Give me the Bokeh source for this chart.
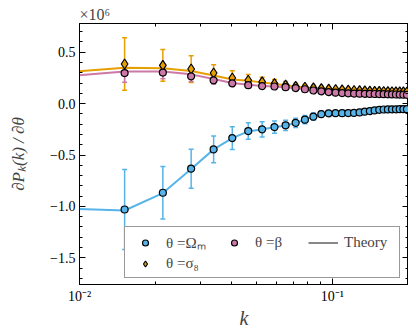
import numpy as np
from bokeh.plotting import figure
from bokeh.models import (ColumnDataSource, Whisker, TeeHead, FixedTicker, LogAxis, LinearAxis,
                          CustomJSTickFormatter, Legend, LegendItem)
from bokeh.embed import file_html
from bokeh.resources import INLINE

# ---------------- data (values in units of 1e6) ----------------
k = [0.01508, 0.02136, 0.02764, 0.03392, 0.0402, 0.04648, 0.05276, 0.05904, 0.06532, 0.0716,
     0.07788, 0.08416, 0.09044, 0.09672, 0.103, 0.10928, 0.11556, 0.12184, 0.12812, 0.1344,
     0.14068, 0.14696, 0.15324, 0.15952, 0.1658, 0.17208, 0.17836, 0.18464, 0.19092, 0.1972]

om_val = [-1.03, -0.867, -0.633, -0.445, -0.335, -0.267, -0.25, -0.228, -0.211, -0.187,
          -0.156, -0.127, -0.102, -0.094, -0.093, -0.093, -0.092, -0.090, -0.085, -0.078,
          -0.072, -0.066, -0.060, -0.057, -0.056, -0.055, -0.055, -0.054, -0.054, -0.054]
om_err = [0.39, 0.255, 0.19, 0.13, 0.11, 0.08, 0.075, 0.06, 0.05, 0.045,
          0.04, 0.035, 0.03, 0.028, 0.025, 0.022, 0.02, 0.018, 0.017, 0.016,
          0.015, 0.014, 0.013, 0.012, 0.012, 0.011, 0.011, 0.01, 0.01, 0.01]

s8_val = [0.386, 0.373, 0.337, 0.298, 0.25, 0.228, 0.212, 0.195, 0.181, 0.168,
          0.160, 0.153, 0.147, 0.142, 0.138, 0.134, 0.131, 0.128, 0.126, 0.124,
          0.122, 0.120, 0.119, 0.118, 0.117, 0.116, 0.115, 0.114, 0.114, 0.113]
s8_err = [0.256, 0.155, 0.13, 0.08, 0.07, 0.055, 0.045, 0.04, 0.035, 0.03,
          0.027, 0.025, 0.023, 0.021, 0.02, 0.019, 0.018, 0.017, 0.016, 0.015,
          0.015, 0.014, 0.014, 0.013, 0.013, 0.012, 0.012, 0.012, 0.011, 0.011]

bt_val = [0.298, 0.302, 0.266, 0.227, 0.198, 0.180, 0.171, 0.167, 0.160, 0.152,
          0.140, 0.128, 0.120, 0.113, 0.107, 0.103, 0.100, 0.098, 0.097, 0.096,
          0.095, 0.094, 0.093, 0.092, 0.091, 0.090, 0.089, 0.088, 0.087, 0.086]
bt_err = [0.09, 0.06, 0.05, 0.035, 0.03, 0.025, 0.022, 0.02, 0.018, 0.016,
          0.015, 0.014, 0.013, 0.012, 0.011, 0.011, 0.01, 0.01, 0.01, 0.009,
          0.009, 0.009, 0.008, 0.008, 0.008, 0.008, 0.007, 0.007, 0.007, 0.007]

k_th = [0.00880] + k
om_th = [-1.02, -1.04, -0.87, -0.635, -0.445, -0.335, -0.27, -0.25, -0.23, -0.212, -0.187,
         -0.156, -0.127, -0.103, -0.094, -0.093, -0.093, -0.092, -0.090, -0.085, -0.078,
         -0.072, -0.066, -0.060, -0.057, -0.056, -0.055, -0.055, -0.054, -0.054, -0.054]
s8_th = [0.304, 0.35, 0.344, 0.317, 0.273, 0.235, 0.222, 0.207, 0.192, 0.178, 0.166,
         0.158, 0.151, 0.145, 0.141, 0.137, 0.133, 0.130, 0.127, 0.125, 0.123,
         0.121, 0.119, 0.118, 0.117, 0.116, 0.115, 0.114, 0.113, 0.113, 0.112]
bt_th = [0.265, 0.312, 0.312, 0.285, 0.24, 0.2, 0.183, 0.172, 0.166, 0.159, 0.150,
         0.139, 0.128, 0.120, 0.113, 0.107, 0.103, 0.100, 0.098, 0.097, 0.096,
         0.095, 0.094, 0.093, 0.092, 0.091, 0.090, 0.089, 0.088, 0.087, 0.086]

x_major = [0.01, 0.1]
x_minor = [0.02, 0.03, 0.04, 0.05, 0.06, 0.07, 0.08, 0.09, 0.2]
y_major = [-1.5, -1.0, -0.5, 0.0, 0.5]
y_minor = [round(-1.7 + 0.1 * i, 1) for i in range(25)]

BLUE, ORANGE, PINK = "#56B4E9", "#E69F00", "#CC79A7"
SERIF = "Liberation Serif"

p = figure(frame_width=329, frame_height=261, x_axis_type="log", x_range=(0.01, 0.2), y_range=(-1.76, 0.78),
           output_backend="svg", toolbar_location=None,
           min_border_left=79, min_border_right=0, min_border_top=23, min_border_bottom=43)
p.xgrid.visible = False
p.ygrid.visible = False
p.outline_line_color = "black"
p.outline_line_width = 1

p.title.text = "×10⁶"
p.title.text_font = SERIF
p.title.text_font_size = "16px"
p.title.text_font_style = "normal"
p.title.align = "left"
p.title.standoff = 2

def style_axis(ax, show_labels=True):
    ax.major_tick_in = 6
    ax.major_tick_out = 0
    ax.minor_tick_in = 3
    ax.minor_tick_out = 0
    ax.axis_line_color = "black"
    ax.major_tick_line_color = "black"
    ax.minor_tick_line_color = "black"
    ax.major_label_text_font = SERIF
    ax.major_label_text_color = "black"
    if show_labels:
        ax.major_label_text_font_size = "14px"
        ax.major_label_standoff = 4
    else:
        ax.major_label_text_font_size = "0px"
        ax.major_label_standoff = 0

xt = FixedTicker(ticks=x_major, minor_ticks=x_minor)
yt = FixedTicker(ticks=y_major, minor_ticks=y_minor)
xfmt = CustomJSTickFormatter(code="return (tick < 0.05) ? '10\u207b\u00b2' : '10\u207b\u00b9';")
yfmt = CustomJSTickFormatter(code="return (tick < 0 ? '\u2212' : '') + Math.abs(tick).toFixed(1);")
blank = CustomJSTickFormatter(code="return '';")

p.xaxis.ticker = xt
p.xaxis.formatter = xfmt
p.yaxis.ticker = yt
p.yaxis.formatter = yfmt
style_axis(p.xaxis[0])
style_axis(p.yaxis[0])
p.xaxis.axis_label = "k"
p.xaxis.axis_label_text_font = SERIF
p.xaxis.axis_label_text_font_style = "italic"
p.xaxis.axis_label_text_font_size = "20px"
p.xaxis.axis_label_standoff = 0
p.yaxis.axis_label = "∂Pₖ(k) / ∂θ"
p.yaxis.axis_label_text_font = SERIF
p.yaxis.axis_label_text_font_style = "italic"
p.yaxis.axis_label_text_font_size = "17px"
p.yaxis.axis_label_standoff = 19

ra = LinearAxis(ticker=yt, formatter=blank)
style_axis(ra, False)
p.add_layout(ra, "right")
ta = LogAxis(ticker=xt, formatter=blank)
style_axis(ta, False)
p.add_layout(ta, "above")

# theory lines
for vals, col in [(om_th, BLUE), (s8_th, ORANGE), (bt_th, PINK)]:
    p.line(k_th, vals, line_color=col, line_width=2)

def errbars(vals, errs, col):
    src = ColumnDataSource(dict(x=k, lo=[v - e for v, e in zip(vals, errs)],
                                hi=[v + e for v, e in zip(vals, errs)]))
    w = Whisker(base="x", lower="lo", upper="hi", source=src, dimension="height",
                line_color=col, line_width=1.5,
                upper_head=TeeHead(size=5, line_color=col, line_width=1.5),
                lower_head=TeeHead(size=5, line_color=col, line_width=1.5))
    p.add_layout(w)

errbars(om_val, om_err, BLUE)
errbars(s8_val, s8_err, ORANGE)
errbars(bt_val, bt_err, PINK)

r_om = p.scatter(k, om_val, marker="circle", size=7, fill_color=BLUE, line_color="black", line_width=1.2)
r_s8 = p.scatter(k, s8_val, marker="diamond", size=10, fill_color=ORANGE, line_color="black", line_width=1.2)
r_bt = p.scatter(k, bt_val, marker="circle", size=7, fill_color=PINK, line_color="black", line_width=1.2)
# legend-only proxy for the theory curves (not drawn in the plot area)
r_th = p.line(k_th, om_th, line_color="#888888", line_width=2, visible=False)

legend = Legend(items=[
    LegendItem(label="θ =Ωₘ", renderers=[r_om]),
    LegendItem(label="θ =β", renderers=[r_bt]),
    LegendItem(label="Theory", renderers=[r_th]),
    LegendItem(label="θ =σ₈", renderers=[r_s8]),
], orientation="horizontal", ncols=3, location=(45, 6))
legend.label_text_font = SERIF
legend.label_text_font_size = "15px"
legend.label_height = 15
legend.label_width = 50
legend.glyph_height = 15
legend.glyph_width = 30
legend.label_standoff = 6
legend.spacing = 3
legend.padding = 5
legend.margin = 0
legend.border_line_color = "#333333"
legend.border_line_width = 1
legend.background_fill_color = "white"
legend.background_fill_alpha = 1.0
p.add_layout(legend)

open("out.html", "w").write(file_html(p, INLINE))
